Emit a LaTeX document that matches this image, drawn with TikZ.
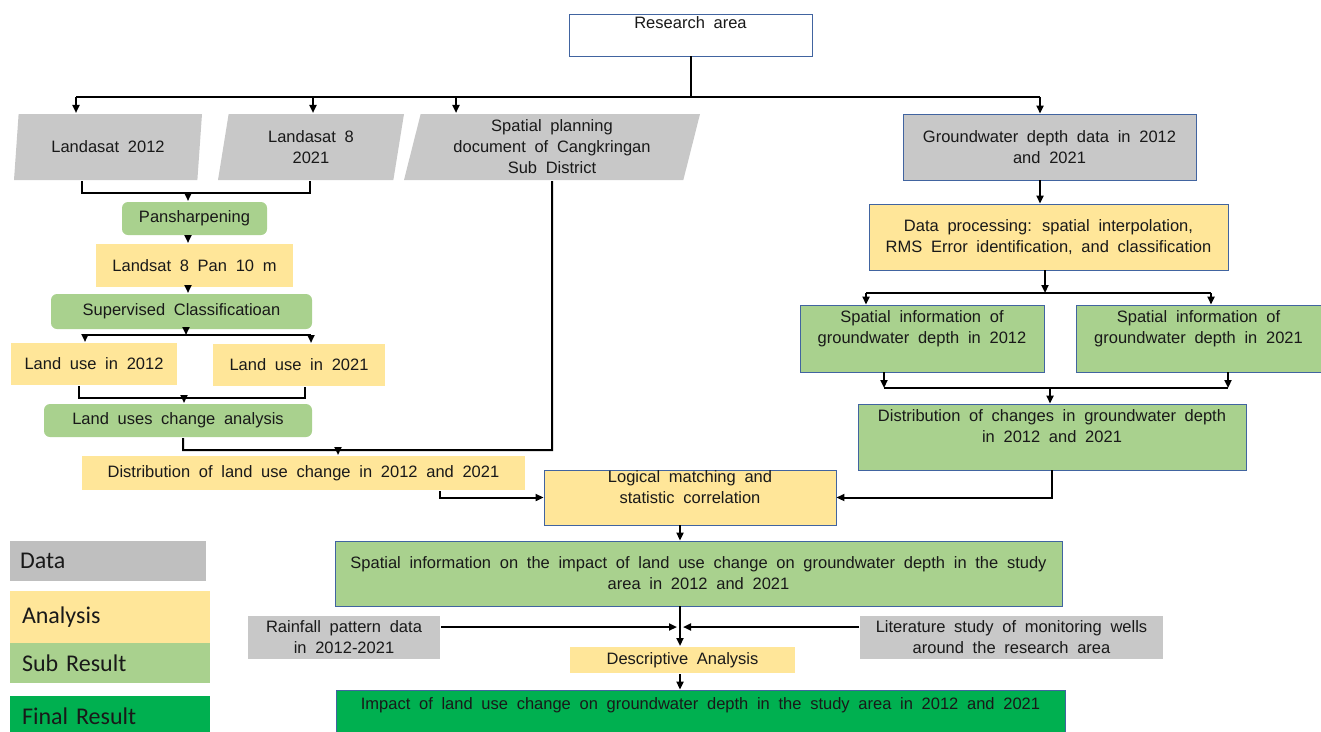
\documentclass[tikz,border=0pt]{standalone}
\usepackage{fontspec}
\setmainfont{Liberation Sans}[WordSpace=1.9]
\newfontfamily\legendfont{Carlito}
\usepackage{xcolor}
\usetikzlibrary{shapes.geometric,arrows.meta}

\definecolor{datagray}{RGB}{200,200,200}
\definecolor{leggray}{RGB}{191,191,191}
\definecolor{anayellow}{RGB}{255,230,153}
\definecolor{subgreen}{RGB}{169,209,142}
\definecolor{finalgreen}{RGB}{0,176,80}
\definecolor{edgeblue}{RGB}{65,100,160}

\newcommand{\boxfont}{\fontsize{16.5}{21}\selectfont}
\newcommand{\toptext}[4][4pt]{\parbox[c][#2][t]{#3}{\centering\vspace*{#1}#4}}

\tikzset{
  base/.style={rectangle, inner sep=0pt, align=center, text=black!90, font=\boxfont},
  framed/.style={draw=edgeblue, line width=0.9pt},
  datapar/.style={trapezium, trapezium left angle=74, trapezium right angle=106,
    trapezium stretches body, fill=datagray, inner sep=2pt, align=center,
    text=black!90, font=\boxfont, minimum height=66pt},
  databox/.style={base, fill=datagray},
  anabox/.style={base, fill=anayellow},
  subbox/.style={base, fill=subgreen},
  subround/.style={base, fill=subgreen, rounded corners=6pt},
  finalbox/.style={base, fill=finalgreen},
  legbox/.style={rectangle, inner sep=0pt, text width=176pt, align=left,
    font=\legendfont\fontsize{24}{28}\selectfont, text=black!90},
}

\begin{document}
\begin{tikzpicture}[x=1pt, y=-1pt, line width=2pt, >={Triangle[length=8pt,width=7pt]}]
\useasboundingbox (0,0) rectangle (1321,731);

% top and data
\node[base, framed, fill=white, minimum width=243pt, minimum height=42pt] (ra) at (690.5,35)
  {\toptext[3pt]{42pt}{243pt}{Research area}};
\node[datapar, minimum width=188pt] (l12) at (108,147) {Landasat 2012};
\node[datapar, minimum width=186pt] (l21) at (311,147) {Landasat 8\\2021};
\node[datapar, minimum width=296pt] (sp) at (552,147) {Spatial planning\\document of Cangkringan\\Sub District};
\node[databox, framed, minimum width=293pt, minimum height=66pt] (gw) at (1049.5,147)
  {Groundwater depth data in 2012\\and 2021};

% left branch
\node[subround, minimum width=145pt, minimum height=33pt] (pan) at (194.5,218.5) {Pansharpening};
\node[anabox, minimum width=197pt, minimum height=43pt] (l8p) at (194.5,265.5) {Landsat 8 Pan 10 m};
\node[subround, minimum width=261pt, minimum height=35pt] (sup) at (181.5,311.5) {Supervised Classificatioan};
\node[anabox, minimum width=166pt, minimum height=42pt] (lu12) at (94,364) {Land use in 2012};
\node[anabox, minimum width=172pt, minimum height=42pt] (lu21) at (299,365) {Land use in 2021};
\node[subround, minimum width=268pt, minimum height=33pt] (luc) at (178,420.5) {Land uses change analysis};
\node[anabox, minimum width=443pt, minimum height=34pt] (dlu) at (303.5,473)
  {Distribution of land use change in 2012 and 2021};

% right branch
\node[anabox, framed, minimum width=359pt, minimum height=66pt] (dp) at (1048.5,237)
  {Data processing: spatial interpolation,\\RMS Error identification, and classification};
\node[subbox, framed, minimum width=244pt, minimum height=67pt] (si12) at (922,338.5)
  {\toptext[6pt]{67pt}{244pt}{Spatial information of\\groundwater depth in 2012}};
\node[subbox, framed, minimum width=245pt, minimum height=67pt] (si21) at (1198.5,338.5)
  {\toptext[6pt]{67pt}{245pt}{Spatial information of\\groundwater depth in 2021}};
\node[subbox, framed, minimum width=388pt, minimum height=66pt] (dc) at (1052,437)
  {\toptext[6pt]{66pt}{388pt}{Distribution of changes in groundwater depth\\in 2012 and 2021}};

% lower part
\node[anabox, framed, minimum width=292pt, minimum height=55pt] (lm) at (690,497.5)
  {\toptext[1pt]{55pt}{292pt}{Logical matching and\\statistic correlation}};
\node[subbox, framed, minimum width=727pt, minimum height=65pt] (impact) at (698.5,573.5)
  {Spatial information on the impact of land use change on groundwater depth in the study\\area in 2012 and 2021};
\node[databox, minimum width=192pt, minimum height=43pt] (rain) at (344,637.5) {Rainfall pattern data\\in 2012-2021};
\node[databox, minimum width=303pt, minimum height=43pt] (lit) at (1011.5,637.5)
  {Literature study of monitoring wells\\around the research area};
\node[anabox, minimum width=225pt, minimum height=26pt] (desc) at (682.5,660) {Descriptive Analysis};
\node[finalbox, framed, minimum width=729pt, minimum height=45pt] (fin) at (700.5,712.5)
  {\toptext[8pt]{45pt}{729pt}{Impact of land use change on groundwater depth in the study area in 2012 and 2021}};

% legend
\node[legbox, fill=leggray, minimum width=196pt, minimum height=40pt] (lgd) at (108,561) {Data};
\node[legbox, fill=anayellow, minimum width=200pt, minimum height=52pt] (lga) at (110,617) {Analysis};
\node[legbox, fill=subgreen, minimum width=200pt, minimum height=40pt] (lgs) at (110,663) {Sub Result};
\node[legbox, fill=finalgreen, minimum width=200pt, minimum height=40pt] (lgf) at (110,716) {Final Result};

% connectors
\coordinate (b1) at (76,97);
\coordinate (b2) at (313,97);
\coordinate (b3) at (456,97);
\coordinate (b4) at (1040,97);
\draw (ra.south) -- (ra.south |- b1);
\draw (b1) -- (b4);
\draw[->] (b1) -- (b1 |- l12.north);
\draw[->] (b2) -- (b2 |- l21.north);
\draw[->] (b3) -- (b3 |- sp.north);
\draw[->] (b4) -- (b4 |- gw.north);

\coordinate (c1) at (82,193);
\coordinate (c2) at (310,193);
\coordinate (c3) at (188,193);
\draw (c1 |- l12.south) -- (c1) -- (c2) -- (c2 |- l21.south);
\draw[->] (c3) -- (c3 |- pan.north);
\draw[->] (c3 |- pan.south) -- (c3 |- l8p.north);
\draw[->] (c3 |- l8p.south) -- (c3 |- sup.north);

\coordinate (d1) at (85,335);
\coordinate (d2) at (311,335);
\coordinate (d3) at (186,335);
\draw[->] (d3 |- sup.south) -- (d3);
\draw (d1) -- (d2);
\draw[->] (d1) -- (d1 |- lu12.north);
\draw[->] (d2) -- (d2 |- lu21.north);

\coordinate (e1) at (79,398);
\coordinate (e2) at (305,398);
\coordinate (e3) at (184,398);
\draw (e1 |- lu12.south) -- (e1) -- (e2) -- (e2 |- lu21.south);
\draw[->] (e3) -- (e3 |- luc.north);

\coordinate (f1) at (183,450);
\coordinate (f2) at (552,450);
\coordinate (f3) at (338,450);
\draw (f1 |- luc.south) -- (f1) -- (f2) -- (sp.south);
\draw[->] (f3) -- (f3 |- dlu.north);

\coordinate (g1) at (440,497.5);
\draw[->] (g1 |- dlu.south) -- (g1) -- (lm.west);

\draw[->] (b4 |- gw.south) -- (b4 |- dp.north);

\coordinate (h1) at (866,293);
\coordinate (h2) at (1211,293);
\coordinate (h3) at (1045,293);
\draw[->] (h3 |- dp.south) -- (h3);
\draw (h1) -- (h2);
\draw[->] (h1) -- (h1 |- si12.north);
\draw[->] (h2) -- (h2 |- si21.north);

\coordinate (k1) at (884,388);
\coordinate (k2) at (1228,388);
\coordinate (k3) at (1050,388);
\draw[->] (k1 |- si12.south) -- (k1);
\draw[->] (k2 |- si21.south) -- (k2);
\draw (k1) -- (k2);
\draw[->] (k3) -- (k3 |- dc.north);

\coordinate (m1) at (1052,497.5);
\draw[->] (m1 |- dc.south) -- (m1) -- (lm.east);

\coordinate (n1) at (680,627);
\draw[->] (n1 |- lm.south) -- (n1 |- impact.north);
\draw[->] (n1 |- impact.south) -- (n1 |- desc.north);
\draw[->] (rain.east |- n1) -- ([xshift=-3pt]n1);
\draw[->] (lit.west |- n1) -- ([xshift=3pt]n1);
\draw[->] (n1 |- desc.south) -- (n1 |- fin.north);
\end{tikzpicture}
\end{document}
